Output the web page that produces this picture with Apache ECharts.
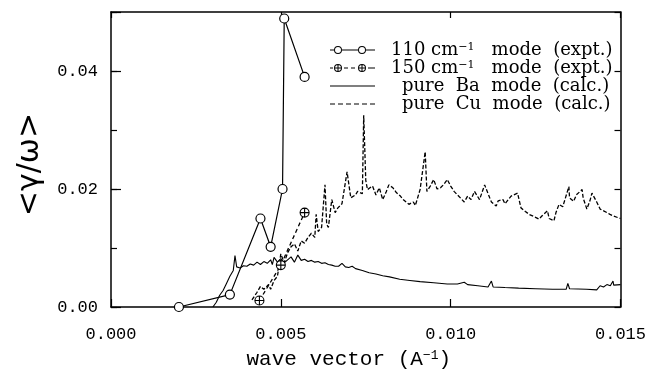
<!DOCTYPE html>
<html>
<head>
<meta charset="utf-8">
<script src="https://cdn.jsdelivr.net/npm/echarts@6/dist/echarts.min.js"></script>
<style>html,body{margin:0;padding:0;background:#fff}#c{width:649px;height:375px}</style>
</head>
<body>
<div id="c"></div>
<script>
// ---- data ----
const xTickLabels = ['0.000', '0.005', '0.010', '0.015'];
const yTickLabels = ['0.00', '0.02', '0.04'];

const mode110X = [0.0020, 0.0035, 0.0044, 0.0047, 0.00505, 0.0051, 0.0057];
const mode110Y = [0.0000, 0.0021, 0.0150, 0.0102, 0.0200, 0.0489, 0.0390];

const mode150X = [0.00437, 0.0050, 0.0057];
const mode150Y = [0.0011, 0.0071, 0.0160];

const baX = [0.0030, 0.0031, 0.0032, 0.0033, 0.0034, 0.0035, 0.0036, 0.00365, 0.0037, 0.0038,
  0.0039, 0.0040, 0.0041, 0.0042, 0.0043, 0.0044, 0.0045, 0.0046, 0.0047, 0.00475,
  0.0048, 0.0049, 0.0050, 0.0051, 0.0052, 0.0053, 0.0054, 0.0055, 0.0056, 0.0057,
  0.0058, 0.0059, 0.0060, 0.0061, 0.0062, 0.0063, 0.0064, 0.0065, 0.0066, 0.0067,
  0.0068, 0.0069, 0.0070, 0.0071, 0.0072, 0.0074, 0.0076, 0.0078, 0.0080, 0.0082,
  0.0085, 0.0088, 0.0091, 0.0095, 0.0099, 0.0102, 0.0104, 0.0105, 0.0108, 0.0111,
  0.0112, 0.01125, 0.0116, 0.0120, 0.0125, 0.0130, 0.0134, 0.01345, 0.0135, 0.0140,
  0.0143, 0.0144, 0.0145, 0.0146, 0.0147, 0.01478, 0.0148, 0.0150];
const baY = [0.0000, 0.0008, 0.0020, 0.0028, 0.0040, 0.0052, 0.0062, 0.0087, 0.0068, 0.0066,
  0.0070, 0.0069, 0.0073, 0.0071, 0.0076, 0.0072, 0.0077, 0.0074, 0.0080, 0.0072,
  0.0084, 0.0076, 0.0082, 0.0075, 0.0080, 0.0085, 0.0076, 0.0088, 0.0079, 0.0081,
  0.0077, 0.0079, 0.0076, 0.0077, 0.0074, 0.0075, 0.0072, 0.0071, 0.0069, 0.0069,
  0.0074, 0.0068, 0.0067, 0.0069, 0.0065, 0.0062, 0.0058, 0.0056, 0.0053, 0.0051,
  0.0047, 0.0045, 0.0043, 0.0041, 0.0039, 0.0039, 0.0042, 0.0038, 0.0036, 0.0034,
  0.0044, 0.0034, 0.0033, 0.0032, 0.0031, 0.0030, 0.0030, 0.0040, 0.0031, 0.0030,
  0.0029, 0.0036, 0.0034, 0.0038, 0.0036, 0.0044, 0.0037, 0.0038];

const cuX = [0.00415, 0.0043, 0.0044, 0.0045, 0.00464, 0.0047, 0.0048, 0.0049, 0.0050, 0.0051,
  0.0052, 0.0053, 0.0054, 0.0055, 0.0056, 0.0057, 0.0058, 0.0059, 0.0060, 0.00604,
  0.0061, 0.0062, 0.0063, 0.00635, 0.0064, 0.0065, 0.0066, 0.00668, 0.0068, 0.00695,
  0.00706, 0.0072, 0.00726, 0.0074, 0.00744, 0.0075, 0.00755, 0.0077, 0.0078, 0.0079,
  0.0080, 0.0081, 0.00818, 0.0083, 0.0084, 0.00852, 0.0086, 0.00877, 0.0089, 0.00896,
  0.0091, 0.00925, 0.0093, 0.0094, 0.0095, 0.0096, 0.0097, 0.0098, 0.0099, 0.0100,
  0.0101, 0.0102, 0.0103, 0.0104, 0.0105, 0.0106, 0.0107, 0.01085, 0.0110, 0.01115,
  0.0112, 0.01134, 0.0114, 0.01154, 0.0116, 0.01178, 0.01197, 0.01207, 0.0122, 0.01231,
  0.0125, 0.0126, 0.0127, 0.01285, 0.0129, 0.01304, 0.0131, 0.01319, 0.0133, 0.01338,
  0.01348, 0.0135, 0.01362, 0.0137, 0.01387, 0.0139, 0.01401, 0.0141, 0.01416, 0.0143,
  0.0144, 0.0146, 0.01469, 0.0148, 0.0150];
const cuY = [0.0012, 0.0025, 0.0035, 0.0030, 0.0038, 0.0030, 0.0045, 0.0052, 0.0090, 0.0075,
  0.0092, 0.0102, 0.0107, 0.0095, 0.0112, 0.0108, 0.0118, 0.0125, 0.0118, 0.0157,
  0.0128, 0.0135, 0.0207, 0.0140, 0.0135, 0.0182, 0.0160, 0.0168, 0.0175, 0.0229,
  0.0185, 0.0190, 0.0196, 0.0192, 0.0325, 0.0215, 0.0199, 0.0205, 0.0190, 0.0202,
  0.0182, 0.0195, 0.0207, 0.0202, 0.0194, 0.0188, 0.0182, 0.0174, 0.0178, 0.0172,
  0.0199, 0.0263, 0.0196, 0.0205, 0.0216, 0.0200, 0.0202, 0.0208, 0.0216, 0.0205,
  0.0196, 0.0190, 0.0184, 0.0178, 0.0188, 0.0182, 0.0196, 0.0182, 0.0207, 0.0185,
  0.0178, 0.0171, 0.0180, 0.0182, 0.0175, 0.0188, 0.0193, 0.0168, 0.0162, 0.0157,
  0.0152, 0.0149, 0.0155, 0.0163, 0.0150, 0.0146, 0.0160, 0.0174, 0.0170, 0.0185,
  0.0204, 0.0185, 0.0179, 0.0190, 0.0199, 0.0185, 0.0166, 0.0180, 0.0193, 0.0178,
  0.0166, 0.0160, 0.0157, 0.0154, 0.0150];

const seriesNames = ['110', '150', 'Ba', 'Cu'];

// ---- build ----
const pairs = (xs, ys) => xs.map((x, i) => [x, ys[i]]);
const FONT_MONO = 'Liberation Mono';
const FONT_SERIF = 'DejaVu Serif';

const ringAt = (cx) => `M${cx-4} 4 A4 4 0 1 1 ${cx+4} 4 A4 4 0 1 1 ${cx-4} 4 Z M${cx-3} 4 A3 3 0 1 0 ${cx+3} 4 A3 3 0 1 0 ${cx-3} 4 Z`;
const bar = (x0, x1) => `M${x0} 3.5 L${x1} 3.5 L${x1} 4.5 L${x0} 4.5 Z`;
const crossAt = (cx) => `M${cx-3.5} 3.5 L${cx+3.5} 3.5 L${cx+3.5} 4.5 L${cx-3.5} 4.5 Z M${cx-0.5} 0.5 L${cx+0.5} 0.5 L${cx+0.5} 7.5 L${cx-0.5} 7.5 Z`;
const specks = 'M0 0 L0.01 0 L0.01 0.01 Z M0 8 L0.01 8 L0.01 7.99 Z';

const icon110 = 'path://' + [bar(0, 4), ringAt(8), bar(12, 28), ringAt(32), bar(36, 45)].join(' ');
const icon150 = 'path://' + [bar(0, 3), ringAt(8), crossAt(8), bar(14, 18), bar(21, 25), ringAt(32), crossAt(32), bar(38, 45)].join(' ');
const iconBa = 'path://' + [specks, bar(0, 45)].join(' ');
const iconCu = 'path://' + [specks, bar(0, 5), bar(8, 13), bar(16, 21), bar(24, 29), bar(32, 37), bar(40, 45)].join(' ');

const plusCircle = 'path://M0 5 A5 5 0 1 1 10 5 A5 5 0 1 1 0 5 Z M0 5 L10 5 M5 0 L5 10';

const legendText = {
  '110': '{sp1| }{t|110 cm}{sup|−1}{t|   mode  (expt.)}',
  '150': '{sp1| }{t|150 cm}{sup|−1}{t|   mode  (expt.)}',
  'Ba': '{sp2| }{t|pure  Ba  mode  (calc.)}',
  'Cu': '{sp2| }{t|pure  Cu  mode  (calc.)}'
};

const chart = echarts.init(document.getElementById('c'), null, {renderer: 'canvas'});
const axisLineStyle = {color: '#000', width: 1.5};

chart.setOption({
  animation: false,
  backgroundColor: '#fff',
  grid: {left: 111, right: 24, top: 12, bottom: 64, containLabel: false},
  legend: {
    orient: 'vertical',
    left: 325,
    top: 36,
    itemWidth: 45,
    itemHeight: 8,
    itemGap: 0,
    selectedMode: false,
    data: [
      {name: '110', icon: icon110, itemStyle: {color: '#000', borderWidth: 0}},
      {name: '150', icon: icon150, itemStyle: {color: '#000', borderWidth: 0}},
      {name: 'Ba', icon: iconBa, itemStyle: {color: '#000', borderWidth: 0}},
      {name: 'Cu', icon: iconCu, itemStyle: {color: '#000', borderWidth: 0}}
    ],
    formatter: (n) => legendText[n],
    textStyle: {
      color: '#000', fontFamily: FONT_SERIF, fontSize: 18, lineHeight: 16,
      rich: {
        t: {fontFamily: FONT_SERIF, fontSize: 18, color: '#000', lineHeight: 16},
        sup: {fontFamily: FONT_SERIF, fontSize: 11, color: '#000', verticalAlign: 'top', lineHeight: 10},
        sp1: {width: 11, fontSize: 18, lineHeight: 16},
        sp2: {width: 22, fontSize: 18, lineHeight: 16}
      }
    }
  },
  xAxis: [
    {
      type: 'value', position: 'bottom', min: 0, max: 0.015, interval: 0.005,
      axisLine: {show: true, onZero: false, lineStyle: axisLineStyle},
      axisTick: {show: true, inside: true, length: 8, lineStyle: {color: '#000', width: 1.2}},
      splitLine: {show: false},
      axisLabel: {
        show: true, margin: 19, color: '#000', fontFamily: FONT_MONO, fontSize: 17,
        formatter: (v) => xTickLabels[Math.round(v / 0.005)] || ''
      },
      name: '{t|wave vector (A}{sup|−1}{t|)}',
      nameLocation: 'middle',
      nameGap: 42,
      nameTextStyle: {
        color: '#000', padding: [0, 34, 0, 0],
        rich: {
          t: {fontFamily: FONT_MONO, fontSize: 21, color: '#000', lineHeight: 21},
          sup: {fontFamily: FONT_MONO, fontSize: 13, color: '#000', verticalAlign: 'top', lineHeight: 13}
        }
      }
    },
    {
      type: 'value', position: 'top', min: 0, max: 0.015, interval: 0.005,
      axisLine: {show: true, onZero: false, lineStyle: axisLineStyle},
      axisTick: {show: true, inside: true, length: 6, lineStyle: {color: '#000', width: 1.2}},
      splitLine: {show: false},
      axisLabel: {show: false}
    }
  ],
  yAxis: [
    {
      type: 'value', position: 'left', min: 0, max: 0.05, interval: 0.01,
      axisLine: {show: true, onZero: false, lineStyle: axisLineStyle},
      axisTick: {show: true, inside: true, length: 6, lineStyle: {color: '#000', width: 1.2}},
      splitLine: {show: false},
      axisLabel: {
        show: true, margin: 13, color: '#000', fontFamily: FONT_MONO, fontSize: 17,
        formatter: (v) => {
          const i = Math.round(v / 0.01);
          return (i % 2 === 0) ? (yTickLabels[i / 2] || '') : '';
        }
      },
      name: '<γ/ω>',
      nameLocation: 'middle',
      nameGap: 66,
      nameTextStyle: {color: '#000', fontFamily: 'DejaVu Sans', fontSize: 30, padding: [0, 10, 0, 0]}
    },
    {
      type: 'value', position: 'left', min: 0, max: 0.05, interval: 0.02,
      axisLine: {show: false, onZero: false},
      axisTick: {show: true, inside: true, length: 10, lineStyle: {color: '#000', width: 1.2}},
      splitLine: {show: false},
      axisLabel: {show: false}
    },
    {
      type: 'value', position: 'right', min: 0, max: 0.05, interval: 0.01,
      axisLine: {show: true, onZero: false, lineStyle: axisLineStyle},
      axisTick: {show: true, inside: true, length: 6, lineStyle: {color: '#000', width: 1.2}},
      splitLine: {show: false},
      axisLabel: {show: false}
    }
  ],
  series: [
    {
      name: seriesNames[2], type: 'line', xAxisIndex: 0, yAxisIndex: 0,
      data: pairs(baX, baY), showSymbol: false, symbol: 'none',
      lineStyle: {color: '#000', width: 1.1}, itemStyle: {color: '#000'}, z: 2
    },
    {
      name: seriesNames[3], type: 'line', xAxisIndex: 0, yAxisIndex: 0,
      data: pairs(cuX, cuY), showSymbol: false, symbol: 'none',
      lineStyle: {color: '#000', width: 1.3, type: [4, 2]}, itemStyle: {color: '#000'}, z: 2
    },
    {
      name: seriesNames[1], type: 'line', xAxisIndex: 0, yAxisIndex: 0,
      data: pairs(mode150X, mode150Y), symbol: plusCircle, symbolSize: 9,
      lineStyle: {color: '#000', width: 1.3, type: [4, 3]},
      itemStyle: {color: '#fff', borderColor: '#000', borderWidth: 1.1}, z: 3
    },
    {
      name: seriesNames[0], type: 'line', xAxisIndex: 0, yAxisIndex: 0,
      data: pairs(mode110X, mode110Y), symbol: 'circle', symbolSize: 9,
      lineStyle: {color: '#000', width: 1.2},
      itemStyle: {color: '#fff', borderColor: '#000', borderWidth: 1.2}, z: 4
    }
  ]
});
</script>
</body>
</html>
